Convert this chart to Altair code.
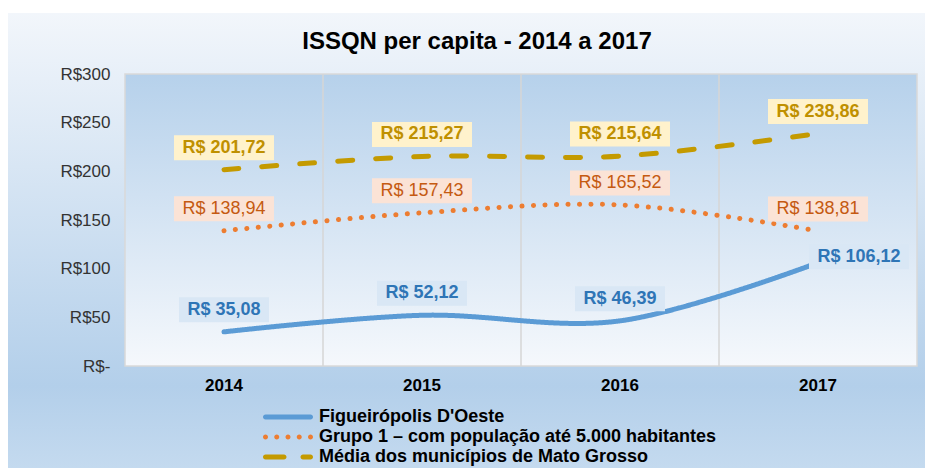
import altair as alt
import pandas as pd

# ---------------- data ----------------
years = ["2014", "2015", "2016", "2017"]
series = [
    "Figueirópolis D'Oeste",
    "Grupo 1 – com população até 5.000 habitantes",
    "Média dos municípios de Mato Grosso",
]
figueiropolis = [35.08, 52.12, 46.39, 106.12]
grupo1 = [138.94, 157.43, 165.52, 138.81]
media = [201.72, 215.27, 215.64, 238.86]
y_ticks = [0, 50, 100, 150, 200, 250, 300]
title_text = "ISSQN per capita - 2014 a 2017"

# ---------------- styles ----------------
line_colors = ["#5b9bd5", "#ed7d31", "#c49a00"]
line_dashes = [[1, 0], [0.1, 11.4], [15, 23]]
text_colors = ["#2e75b6", "#c55a11", "#bf9000"]
box_fills = ["#d9e7f5", "#fbe3d6", "#fff2cc"]
text_weights = ["bold", "normal", "bold"]
default_offset = (0, -22)
special_offsets = {("Figueirópolis D'Oeste", "2017"): (41, -6)}


def seg(a, b, r=0.5):
    return (f"M{a},-{r}L{b},-{r}A{r},{r} 0 0,1 {b},{r}"
            f"L{a},{r}A{r},{r} 0 0,1 {a},-{r}Z")


def dot(cx, r=0.5):
    return f"M{cx - r},0A{r},{r} 0 1,0 {cx + r},0A{r},{r} 0 1,0 {cx - r},0Z"


legend_shapes = [
    seg(-4.5, 4.5),
    "".join(dot(c) for c in [-4.5, -2.25, 0, 2.25, 4.5]),
    seg(-4.5, -0.8) + seg(3.0, 4.5),
]

W, H = 792, 292
PAD_L, PAD_T, PAD_R, PAD_B = 117, 66, 8, 102
FONT = "Liberation Sans"

rows = []
for s, vals in zip(series, [figueiropolis, grupo1, media]):
    for yr, v in zip(years, vals):
        label = "R$ " + f"{v:.2f}".replace(".", ",")
        dx, dy = special_offsets.get((s, yr), default_offset)
        rows.append(dict(series=s, year=yr, value=v, label=label,
                         boxw=10 * len(label) + 10, dx=dx, dy=dy))
df = pd.DataFrame(rows)

xscale = alt.Scale(type="band", domain=years, paddingInner=0, paddingOuter=0)
yscale = alt.Scale(domain=[0, 300])
xaxis = alt.Axis(title=None, labelFontSize=17, labelFontWeight="bold", labelColor="#000000",
                 labelPadding=11, domain=False, ticks=False, grid=False,
                 labelAngle=0, labelFont=FONT, zindex=2)
yaxis = alt.Axis(title=None, values=y_ticks,
                 labelExpr="datum.value == 0 ? 'R$-' : 'R$' + datum.value",
                 labelFontSize=17, labelColor="#333333", labelPadding=15,
                 domain=False, ticks=False, grid=False, labelFont=FONT, zindex=2)
X = alt.X("year:N", scale=xscale, axis=xaxis)
Y = alt.Y("value:Q", scale=yscale, axis=yaxis)


def make_legend():
    return alt.Legend(
        title=None, orient="none", legendX=154, legendY=334,
        direction="vertical", symbolSize=100, symbolStrokeWidth=0,
        symbolOpacity=1, labelOffset=22, rowPadding=2, padding=0,
        labelFontSize=18, labelFontWeight="bold", labelColor="#000000",
        labelFont=FONT, labelLimit=600, zindex=2)


one = pd.DataFrame({"k": [0]})

outer_bg = alt.Chart(one).mark_rect(
    color=alt.LinearGradient(
        gradient="linear", x1=0, x2=0, y1=0, y2=1,
        stops=[alt.GradientStop(color="#f2f6fb", offset=0),
               alt.GradientStop(color="#b3cfea", offset=0.82),
               alt.GradientStop(color="#c4daef", offset=1)]),
).encode(x=alt.value(-PAD_L), x2=alt.value(W + PAD_R),
         y=alt.value(-(PAD_T - 5)), y2=alt.value(H + PAD_B))

plot_bg = alt.Chart(one).mark_rect(
    color=alt.LinearGradient(
        gradient="linear", x1=0, x2=0, y1=0, y2=1,
        stops=[alt.GradientStop(color="#b6d1eb", offset=0),
               alt.GradientStop(color="#f5f8fc", offset=1)]),
    stroke="#d9d9d9", strokeWidth=1.5,
).encode(x=alt.value(0), x2=alt.value(W), y=alt.value(0), y2=alt.value(H))

grid = alt.Chart(pd.DataFrame({"year": years[1:]})).mark_rule(
    color="#d6d6d6", strokeWidth=1.5
).encode(x=alt.X("year:N", bandPosition=0, scale=xscale, axis=xaxis),
         y=alt.value(0), y2=alt.value(H))

# series names sort alphabetically in the same order as `series`
lines = alt.Chart(df).mark_line(
    interpolate="cardinal", strokeWidth=5, strokeCap="round"
).encode(
    x=X, y=Y,
    color=alt.Color("series:N", scale=alt.Scale(range=line_colors), legend=None),
    strokeDash=alt.StrokeDash("series:N", scale=alt.Scale(range=line_dashes), legend=None),
)

legend_layer = alt.Chart(df).transform_filter("false").mark_point(
    filled=True, opacity=1
).encode(
    x=X, y=Y,
    fill=alt.Fill("series:N", scale=alt.Scale(domain=series, range=line_colors),
                  legend=make_legend()),
    shape=alt.Shape("series:N", scale=alt.Scale(domain=series, range=legend_shapes),
                    legend=make_legend()),
)

label_layers = []
for i, s in enumerate(series):
    sub = df[df["series"] == s]
    for (dx, dy, bw), grp in sub.groupby(["dx", "dy", "boxw"]):
        hh = 25.0 / bw
        path = f"M-1,-{hh:.4f}L1,-{hh:.4f}L1,{hh:.4f}L-1,{hh:.4f}Z"
        boxes = alt.Chart(grp).mark_point(
            filled=True, opacity=1, strokeWidth=0, color=box_fills[i],
            shape=path, size=float(bw * bw),
            xOffset=float(dx), yOffset=float(dy)
        ).encode(x=X, y=Y)
        label_layers.append(boxes)
    for (dx, dy), grp in sub.groupby(["dx", "dy"]):
        texts = alt.Chart(grp).mark_text(
            font=FONT, fontSize=18, fontWeight=text_weights[i], color=text_colors[i],
            dx=float(dx), dy=float(dy), baseline="middle", align="center"
        ).encode(x=X, y=Y, text="label:N")
        label_layers.append(texts)

chart = alt.layer(outer_bg, plot_bg, grid, lines, legend_layer, *label_layers).properties(
    width=W, height=H,
    title=alt.TitleParams(title_text, fontSize=24, fontWeight="bold", font=FONT,
                          color="#000000", anchor="middle", dx=-44, offset=-60,
                          baseline="alphabetic", zindex=2),
    autosize=alt.AutoSizeParams(type="none"),
    padding={"left": PAD_L, "top": PAD_T, "right": PAD_R, "bottom": PAD_B},
).configure_view(stroke="transparent").configure(font=FONT)

chart.save("out.html", embed_options={"renderer": "svg", "actions": False})
